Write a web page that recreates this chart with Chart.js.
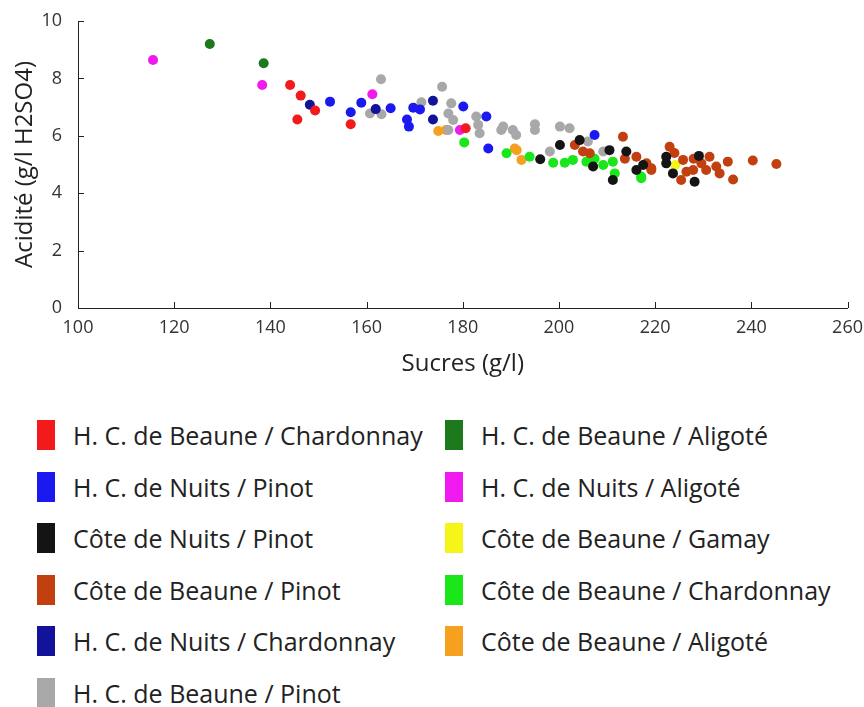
<!DOCTYPE html>
<html>
<head>
<meta charset="utf-8">
<script src="https://cdn.jsdelivr.net/npm/chart.js@4/dist/chart.umd.min.js"></script>
<style>
  body { margin: 0; background: #fff; font-family: "Open Sans", sans-serif; }
  #wrap { position: relative; width: 864px; height: 380px; }
  #legend { position: relative; width: 864px; height: 327px; }
  .item { position: absolute; display: flex; align-items: center; height: 40px; color: #222; font-size: 25px; white-space: nowrap; }
  .box { width: 18px; height: 30px; margin-right: 18px; }
</style>
</head>
<body>
<div id="wrap"><canvas id="wineChart"></canvas></div>
<div id="legend"></div>
<script>
// series: sugar (g/l) vs acidity (g/l H2SO4)
const redX = [144.1, 146.3, 149.3, 145.6, 156.7, 180.6];
const redY = [7.77, 7.40, 6.88, 6.57, 6.40, 6.26];

const blueX = [152.4, 156.7, 158.9, 165.0, 168.4, 168.8, 169.7, 171.1, 180.1, 184.9, 185.3, 207.4];
const blueY = [7.19, 6.82, 7.15, 6.96, 6.57, 6.32, 6.98, 6.92, 7.02, 6.67, 5.56, 6.03];

const blackX = [196.1, 200.2, 204.3, 207.1, 210.5, 211.2, 214.0, 216.1, 217.5, 222.3, 222.3, 223.7, 228.2, 229.1];
const blackY = [5.18, 5.68, 5.85, 4.93, 5.50, 4.46, 5.45, 4.81, 4.98, 5.27, 5.04, 4.69, 4.40, 5.30];

const brownX = [203.3, 205.0, 206.4, 213.3, 213.7, 216.1, 218.2, 219.2, 219.2, 223.0, 225.8, 225.4, 226.5, 227.9, 229.6, 231.3, 230.6, 232.7, 233.4, 235.1, 236.2, 240.3, 245.2, 224.0, 228.0];
const brownY = [5.68, 5.45, 5.39, 5.97, 5.20, 5.27, 5.04, 4.81, 4.87, 5.62, 5.16, 4.46, 4.75, 4.81, 5.04, 5.27, 4.81, 4.93, 4.69, 5.10, 4.48, 5.14, 5.02, 5.40, 5.20];

const navyX = [148.2, 161.9, 173.8, 173.8];
const navyY = [7.08, 6.93, 7.22, 6.57];

const grayX = [163.0, 160.7, 163.1, 171.4, 175.7, 177.0, 177.6, 178.0, 177.0, 182.8, 183.2, 183.5, 188.4, 190.4, 191.1, 195.0, 195.0, 200.2, 202.2, 198.1, 206.0, 209.2, 188.0];
const grayY = [7.97, 6.78, 6.75, 7.17, 7.71, 6.78, 7.13, 6.55, 6.20, 6.67, 6.38, 6.09, 6.32, 6.20, 6.03, 6.40, 6.20, 6.32, 6.26, 5.45, 5.80, 5.45, 6.20];

const dkGreenX = [127.4, 138.6];
const dkGreenY = [9.20, 8.53];

const magentaX = [115.6, 138.3, 161.2, 179.4];
const magentaY = [8.64, 7.77, 7.45, 6.20];

const yellowX = [224.2];
const yellowY = [4.98];

const greenX = [180.3, 189.1, 193.9, 198.8, 201.2, 202.9, 205.7, 207.4, 209.2, 211.2, 211.6, 217.1, 217.1];
const greenY = [5.77, 5.39, 5.27, 5.06, 5.06, 5.16, 5.10, 5.20, 4.98, 5.10, 4.69, 4.58, 4.52];

const orangeX = [174.9, 176.5, 190.8, 192.2, 191.2];
const orangeY = [6.17, 6.20, 5.56, 5.16, 5.50];

const xTicks = [100, 120, 140, 160, 180, 200, 220, 240, 260];
const yTicks = [0, 2, 4, 6, 8, 10];

function pts(xs, ys) {
  return xs.map((x, i) => ({ x: x, y: ys[i] }));
}

const series = [
  { label: "H. C. de Beaune / Chardonnay", color: "#f21a1a", data: pts(redX, redY) },
  { label: "H. C. de Nuits / Pinot", color: "#1a1af0", data: pts(blueX, blueY) },
  { label: "Côte de Nuits / Pinot", color: "#141414", data: pts(blackX, blackY) },
  { label: "Côte de Beaune / Pinot", color: "#c2400f", data: pts(brownX, brownY) },
  { label: "H. C. de Nuits / Chardonnay", color: "#12129a", data: pts(navyX, navyY) },
  { label: "H. C. de Beaune / Pinot", color: "#a8a8a8", data: pts(grayX, grayY) },
  { label: "H. C. de Beaune / Aligoté", color: "#1c7a1c", data: pts(dkGreenX, dkGreenY) },
  { label: "H. C. de Nuits / Aligoté", color: "#f01af0", data: pts(magentaX, magentaY) },
  { label: "Côte de Beaune / Gamay", color: "#f5f51a", data: pts(yellowX, yellowY) },
  { label: "Côte de Beaune / Chardonnay", color: "#1ae61a", data: pts(greenX, greenY) },
  { label: "Côte de Beaune / Aligoté", color: "#f5a01e", data: pts(orangeX, orangeY) }
];

// small tick marks drawn inside the plot area
const innerTicks = {
  id: "innerTicks",
  afterDraw(chart) {
    const c = chart.ctx, a = chart.chartArea;
    const xs = chart.scales.x, ys = chart.scales.y;
    c.save();
    c.strokeStyle = "#222";
    c.lineWidth = 1;
    c.beginPath();
    xTicks.forEach(v => {
      const px = Math.round(xs.getPixelForValue(v)) + 0.5;
      c.moveTo(px, a.bottom); c.lineTo(px, a.bottom - 6);
    });
    yTicks.forEach(v => {
      const py = Math.round(ys.getPixelForValue(v)) + 0.5;
      c.moveTo(a.left, py); c.lineTo(a.left + 6, py);
    });
    c.stroke();
    c.restore();
  }
};

document.addEventListener("DOMContentLoaded", function () {
  const ctx = document.getElementById("wineChart").getContext("2d");

  new Chart(ctx, {
    type: "scatter",
    data: {
      datasets: series.map(s => ({
        label: s.label,
        data: s.data,
        backgroundColor: s.color,
        borderWidth: 0,
        pointRadius: 5,
        pointHoverRadius: 5
      }))
    },
    options: {
      responsive: true,
      maintainAspectRatio: false,
      animation: false,
      layout: { padding: { top: 21, right: 16, bottom: 0, left: 0 } },
      plugins: {
        legend: { display: false },
        tooltip: { enabled: false }
      },
      scales: {
        x: {
          type: "linear",
          min: 100, max: 260,
          afterBuildTicks: s => { s.ticks = xTicks.map(v => ({ value: v })); },
          afterFit: s => { s.height = 72; },
          ticks: { color: "#333", font: { family: "Open Sans", size: 18 }, padding: 1 },
          grid: { display: false },
          border: { display: true, color: "#222", width: 1 },
          title: { display: true, text: "Sucres (g/l)", color: "#222", font: { family: "Open Sans", size: 24 }, padding: { top: 0, bottom: 1 } }
        },
        y: {
          type: "linear",
          min: 0, max: 10,
          afterBuildTicks: s => { s.ticks = yTicks.map(v => ({ value: v })); },
          afterFit: s => { s.width = 78; },
          ticks: { color: "#333", font: { family: "Open Sans", size: 18 }, padding: 8 },
          grid: { display: false },
          border: { display: true, color: "#222", width: 1 },
          title: { display: true, text: "Acidité (g/l H2SO4)", color: "#222", font: { family: "Open Sans", size: 24 }, padding: { top: 11, bottom: 0 } }
        }
      }
    },
    plugins: [innerTicks]
  });

  // two-column legend, filled top to bottom
  const legend = document.getElementById("legend");
  series.forEach((s, i) => {
    const col = i < 6 ? 0 : 1;
    const row = col === 0 ? i : i - 6;
    const el = document.createElement("div");
    el.className = "item";
    el.style.left = (col === 0 ? 37 : 445) + "px";
    el.style.top = (35 + row * 51.6) + "px";
    el.innerHTML = '<span class="box" style="background:' + s.color + '"></span><span>' + s.label + "</span>";
    legend.appendChild(el);
  });
});
</script>
</body>
</html>
